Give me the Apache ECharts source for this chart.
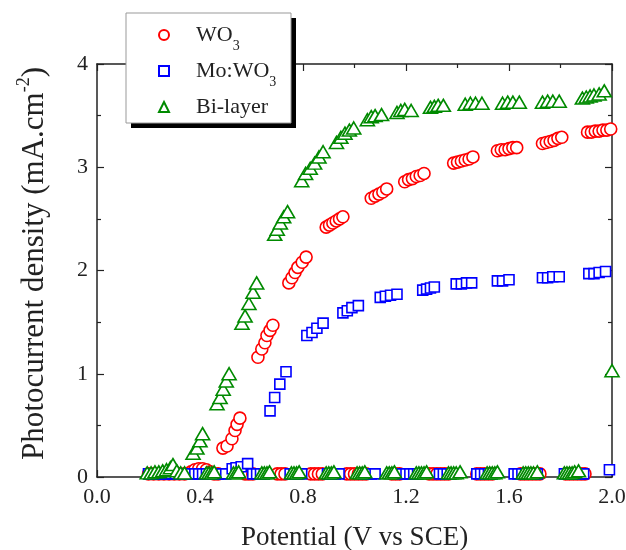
<!DOCTYPE html>
<html><head><meta charset="utf-8">
<script src="https://cdn.jsdelivr.net/npm/echarts@6/dist/echarts.min.js"></script>
<style>html,body{margin:0;padding:0;background:#fff}#c{width:626px;height:550px}</style>
</head><body><div id="c"></div>
<script>
// Potential (V vs SCE) vs photocurrent density (mA/cm2), chopped illumination
const seriesNames = ['WO3', 'Mo:WO3', 'Bi-layer'];
const xTickValues = [0.0, 0.4, 0.8, 1.2, 1.6, 2.0];
const yTickValues = [0, 1, 2, 3, 4];

const wo3 = [
  [0.20,0.03],[0.22,0.03],[0.24,0.03],[0.26,0.03],[0.28,0.03],[0.30,0.03],[0.32,0.03],[0.34,0.03],
  [0.365,0.05],[0.38,0.07],[0.395,0.08],[0.41,0.08],[0.425,0.07],[0.44,0.05],
  [0.455,0.03],[0.47,0.03],
  [0.489,0.28],[0.505,0.30],[0.524,0.37],[0.536,0.45],[0.544,0.51],[0.555,0.57],
  [0.575,0.03],[0.59,0.03],[0.605,0.03],
  [0.625,1.16],[0.64,1.24],[0.652,1.30],[0.66,1.37],[0.672,1.42],[0.683,1.47],
  [0.70,0.03],[0.715,0.03],[0.73,0.03],
  [0.745,1.88],[0.757,1.93],[0.769,1.98],[0.78,2.03],[0.797,2.08],[0.812,2.13],
  [0.83,0.03],[0.845,0.03],[0.86,0.03],[0.875,0.03],
  [0.89,2.42],[0.903,2.44],[0.916,2.46],[0.929,2.48],[0.942,2.50],[0.955,2.52],
  [0.97,0.03],[0.985,0.03],[1.00,0.03],[1.015,0.03],[1.03,0.03],[1.045,0.03],
  [1.065,2.70],[1.08,2.72],[1.095,2.74],[1.11,2.76],[1.125,2.79],
  [1.145,0.03],[1.16,0.03],[1.175,0.03],
  [1.195,2.86],[1.21,2.88],[1.225,2.89],[1.24,2.91],[1.255,2.92],[1.27,2.94],
  [1.29,0.03],[1.305,0.03],[1.32,0.03],[1.335,0.03],[1.35,0.03],[1.365,0.03],
  [1.385,3.04],[1.40,3.05],[1.415,3.06],[1.43,3.07],[1.445,3.08],[1.46,3.10],
  [1.475,0.03],[1.49,0.03],[1.505,0.03],[1.52,0.03],[1.535,0.03],
  [1.555,3.16],[1.57,3.17],[1.585,3.17],[1.60,3.18],[1.615,3.19],[1.63,3.19],
  [1.645,0.03],[1.66,0.03],[1.675,0.03],[1.69,0.03],[1.705,0.03],[1.72,0.03],
  [1.73,3.23],[1.745,3.24],[1.76,3.25],[1.775,3.26],[1.79,3.28],[1.805,3.29],
  [1.82,0.03],[1.835,0.03],[1.85,0.03],[1.865,0.03],[1.88,0.03],[1.895,0.03],
  [1.905,3.34],[1.92,3.34],[1.935,3.35],[1.95,3.35],[1.965,3.36],[1.98,3.36],[1.995,3.37]
];

const moWo3 = [
  [0.20,0.03],[0.215,0.03],[0.23,0.03],[0.245,0.03],[0.26,0.03],[0.275,0.03],[0.29,0.03],[0.305,0.03],
  [0.32,0.03],[0.335,0.03],[0.35,0.03],[0.365,0.03],[0.38,0.03],[0.395,0.03],[0.41,0.03],[0.425,0.03],
  [0.44,0.03],[0.455,0.03],[0.47,0.03],[0.485,0.03],[0.50,0.03],
  [0.525,0.08],[0.54,0.09],[0.56,0.10],[0.585,0.13],
  [0.605,0.03],[0.62,0.03],[0.635,0.03],[0.65,0.03],
  [0.672,0.64],[0.69,0.77],[0.71,0.90],[0.734,1.02],
  [0.75,0.03],[0.765,0.03],[0.78,0.03],[0.795,0.03],
  [0.815,1.37],[0.835,1.40],[0.854,1.44],[0.878,1.49],
  [0.895,0.03],[0.91,0.03],[0.925,0.03],[0.94,0.03],
  [0.955,1.59],[0.972,1.61],[0.99,1.64],[1.015,1.66],
  [1.035,0.03],[1.05,0.03],[1.065,0.03],[1.08,0.03],
  [1.10,1.74],[1.12,1.75],[1.14,1.76],[1.165,1.77],
  [1.185,0.03],[1.20,0.03],[1.215,0.03],[1.23,0.03],[1.245,0.03],
  [1.265,1.81],[1.28,1.82],[1.295,1.83],[1.31,1.84],
  [1.33,0.03],[1.345,0.03],[1.36,0.03],[1.375,0.03],
  [1.395,1.87],[1.415,1.87],[1.435,1.88],[1.455,1.88],
  [1.475,0.03],[1.49,0.03],[1.505,0.03],[1.52,0.03],[1.535,0.03],
  [1.555,1.90],[1.575,1.90],[1.60,1.91],
  [1.62,0.03],[1.635,0.03],[1.65,0.03],[1.665,0.03],[1.68,0.03],[1.695,0.03],[1.71,0.03],
  [1.73,1.93],[1.75,1.93],[1.77,1.94],[1.795,1.94],
  [1.815,0.03],[1.83,0.03],[1.845,0.03],[1.86,0.03],[1.875,0.03],[1.89,0.03],
  [1.91,1.97],[1.93,1.97],[1.95,1.98],[1.975,1.99],
  [1.99,0.07]
];

const biLayer = [
  [0.195,0.04],[0.21,0.04],[0.225,0.05],[0.24,0.05],[0.255,0.06],[0.27,0.07],[0.285,0.09],[0.295,0.12],
  [0.31,0.06],[0.325,0.04],[0.34,0.04],
  [0.373,0.23],[0.388,0.28],[0.40,0.35],[0.41,0.42],
  [0.425,0.04],[0.435,0.04],[0.445,0.04],[0.455,0.05],
  [0.466,0.71],[0.478,0.77],[0.49,0.85],[0.502,0.93],[0.513,1.00],
  [0.53,0.04],[0.54,0.04],[0.55,0.05],
  [0.563,1.49],[0.575,1.56],[0.59,1.68],[0.606,1.79],[0.62,1.88],
  [0.64,0.04],[0.65,0.04],[0.66,0.04],[0.67,0.05],
  [0.69,2.35],[0.70,2.40],[0.712,2.46],[0.725,2.52],[0.74,2.57],
  [0.755,0.04],[0.765,0.04],[0.775,0.04],[0.785,0.05],
  [0.795,2.87],[0.81,2.94],[0.828,2.99],[0.845,3.04],[0.862,3.10],[0.878,3.15],
  [0.89,0.04],[0.90,0.04],[0.91,0.04],[0.92,0.05],
  [0.93,3.24],[0.947,3.29],[0.963,3.33],[0.98,3.36],[0.997,3.38],
  [1.01,0.04],[1.02,0.04],[1.03,0.04],[1.04,0.05],
  [1.05,3.46],[1.065,3.49],[1.08,3.50],[1.105,3.51],
  [1.125,0.04],[1.135,0.04],[1.145,0.04],[1.155,0.05],
  [1.165,3.53],[1.18,3.55],[1.195,3.56],[1.22,3.55],
  [1.24,0.04],[1.25,0.04],[1.26,0.04],[1.27,0.04],[1.28,0.05],
  [1.295,3.58],[1.31,3.59],[1.325,3.60],[1.345,3.60],
  [1.365,0.04],[1.375,0.04],[1.385,0.04],[1.395,0.04],[1.41,0.05],
  [1.43,3.61],[1.45,3.62],[1.47,3.62],[1.495,3.62],
  [1.515,0.04],[1.525,0.04],[1.535,0.04],[1.545,0.04],[1.555,0.05],
  [1.575,3.62],[1.595,3.63],[1.615,3.63],[1.64,3.63],
  [1.655,0.04],[1.665,0.04],[1.675,0.04],[1.685,0.04],[1.695,0.04],[1.71,0.05],
  [1.73,3.63],[1.75,3.64],[1.77,3.64],[1.795,3.64],
  [1.815,0.04],[1.825,0.04],[1.835,0.04],[1.845,0.04],[1.855,0.05],[1.87,0.06],
  [1.885,3.67],[1.90,3.68],[1.915,3.69],[1.93,3.70],[1.95,3.71],[1.97,3.74],
  [2.00,1.03]
];

const FONT = 'Liberation Serif';
const AXIS_COLOR = '#222';
const chart = echarts.init(document.getElementById('c'), null, {renderer: 'canvas'});

function axisCommon(showLabels) {
  return {
    axisLine: {show: true, onZero: false, lineStyle: {color: AXIS_COLOR, width: 1.5}},
    axisTick: {show: true, inside: true, length: 7, lineStyle: {color: AXIS_COLOR, width: 1.2}},
    minorTick: {show: true, splitNumber: 2, length: 4, lineStyle: {color: AXIS_COLOR, width: 1.2}},
    splitLine: {show: false},
    axisLabel: {show: showLabels, fontFamily: FONT, fontSize: 22, color: '#222', margin: 9}
  };
}

const xMin = xTickValues[0], xMax = xTickValues[xTickValues.length - 1];
const yMin = yTickValues[0], yMax = yTickValues[yTickValues.length - 1];

// legend box geometry
const LEG = {x: 126, y: 13, w: 165, h: 110, shadow: 5};

const option = {
  animation: false,
  backgroundColor: '#fff',
  grid: {left: 97, right: 14, top: 64, bottom: 73, containLabel: false, outerBoundsMode: 'none'},
  graphic: [
    {type: 'rect', z: 10, silent: true,
     shape: {x: LEG.x + LEG.shadow, y: LEG.y + LEG.shadow, width: LEG.w, height: LEG.h},
     style: {fill: '#000'}},
    {type: 'rect', z: 11, silent: true,
     shape: {x: LEG.x, y: LEG.y, width: LEG.w, height: LEG.h},
     style: {fill: '#fff', stroke: '#999', lineWidth: 1}}
  ],
  legend: {
    orient: 'vertical', left: LEG.x, top: LEG.y, z: 20,
    padding: [4, 15, 0, 32], itemGap: 0, itemWidth: 10, itemHeight: 10,
    data: seriesNames,
    formatter: name => name.replace('WO3', 'WO{sub|3}'),
    textStyle: {
      fontFamily: FONT, fontSize: 22, color: '#222', lineHeight: 36, padding: [0, 0, 0, 22],
      rich: {sub: {fontFamily: FONT, fontSize: 14, lineHeight: 14, verticalAlign: 'bottom', color: '#222'}}
    }
  },
  xAxis: [
    Object.assign(axisCommon(true), {
      type: 'value', position: 'bottom', min: xMin, max: xMax, interval: 0.4,
      name: 'Potential (V vs SCE)', nameLocation: 'middle', nameGap: 47,
      nameTextStyle: {fontFamily: FONT, fontSize: 27, color: '#222'}
    }),
    Object.assign(axisCommon(false), {
      type: 'value', position: 'top', min: xMin, max: xMax, interval: 0.4
    })
  ],
  yAxis: [
    Object.assign(axisCommon(true), {
      type: 'value', position: 'left', min: yMin, max: yMax, interval: 1,
      name: 'Photocurrent density (mA.cm{sup|-2})', nameLocation: 'middle', nameGap: 42,
      nameTextStyle: {
        fontFamily: FONT, fontSize: 31, color: '#222', lineHeight: 40, padding: [0, 0, 0, 14],
        rich: {sup: {fontFamily: FONT, fontSize: 18, lineHeight: 18, verticalAlign: 'top', color: '#222'}}
      }
    }),
    Object.assign(axisCommon(false), {
      type: 'value', position: 'right', min: yMin, max: yMax, interval: 1
    })
  ],
  series: [
    {name: seriesNames[0], type: 'scatter', data: wo3, symbol: 'circle', symbolSize: 12,
     itemStyle: {color: '#fff', borderColor: '#ff0000', borderWidth: 1.6, opacity: 1}},
    {name: seriesNames[1], type: 'scatter', data: moWo3, symbol: 'rect', symbolSize: 10,
     itemStyle: {color: '#fff', borderColor: '#0000ff', borderWidth: 1.6, opacity: 1}},
    {name: seriesNames[2], type: 'scatter', data: biLayer, symbol: 'triangle', symbolSize: [14, 12],
     itemStyle: {color: '#fff', borderColor: '#008a00', borderWidth: 1.6, opacity: 1}}
  ]
};
option.xAxis[0].axisLabel.formatter = v => v.toFixed(1);
chart.setOption(option);
</script>
</body></html>
